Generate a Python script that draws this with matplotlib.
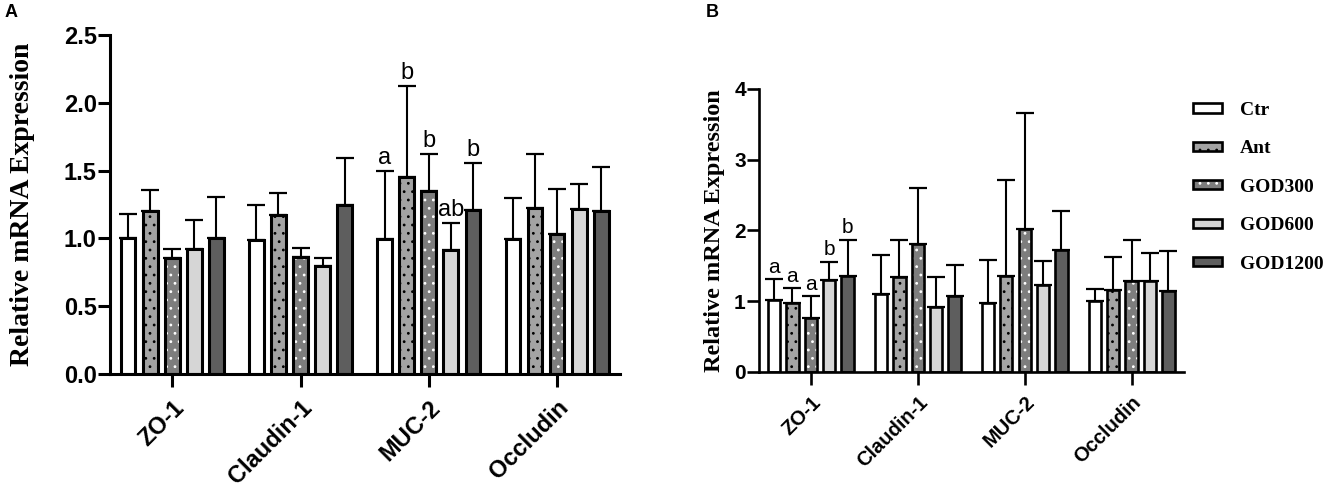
import numpy as np
import matplotlib
matplotlib.use('Agg')
import matplotlib.pyplot as plt
from matplotlib.patches import Patch

# genes on the x axis and treatment groups
genes = ['ZO-1', 'Claudin-1', 'MUC-2', 'Occludin']
groups = ['Ctr', 'Ant', 'GOD300', 'GOD600', 'GOD1200']

# panel A: means and SD (upper bar only) per group, one value per gene
a_ctr = [1.00, 0.99, 0.995, 0.995]
a_ant = [1.20, 1.17, 1.45, 1.225]
a_god300 = [0.855, 0.862, 1.35, 1.035]
a_god600 = [0.925, 0.793, 0.917, 1.215]
a_god1200 = [1.00, 1.245, 1.21, 1.205]

a_ctr_sd = [0.18, 0.26, 0.50, 0.305]
a_ant_sd = [0.16, 0.165, 0.675, 0.40]
a_god300_sd = [0.065, 0.065, 0.27, 0.33]
a_god600_sd = [0.21, 0.062, 0.195, 0.185]
a_god1200_sd = [0.305, 0.345, 0.345, 0.32]

# panel B
b_ctr = [1.022, 1.098, 0.971, 0.999]
b_ant = [0.971, 1.347, 1.357, 1.154]
b_god300 = [0.768, 1.809, 2.017, 1.29]
b_god600 = [1.296, 0.923, 1.225, 1.29]
b_god1200 = [1.352, 1.069, 1.729, 1.14]

b_ctr_sd = [0.29, 0.55, 0.605, 0.18]
b_ant_sd = [0.21, 0.52, 1.35, 0.475]
b_god300_sd = [0.305, 0.795, 1.65, 0.57]
b_god600_sd = [0.265, 0.425, 0.35, 0.385]
b_god1200_sd = [0.52, 0.45, 0.55, 0.565]

# significance letters: gene index -> letter per group
a_letters = {2: ['a', 'b', 'b', 'ab', 'b']}
b_letters = {0: ['a', 'a', 'a', 'b', 'b']}

# bar styles (fill colour, hatch, hatch colour)
fills = ['white', '#a3a3a3', '#7d7d7d', '#d6d6d6', '#5e5e5e']
hatches = [None, '..', '..', None, None]
dotcols = ['black', 'black', 'white', 'black', 'black']

sans = 'Liberation Sans'
serif = 'Liberation Serif'
plt.rcParams['hatch.linewidth'] = 0.8


def draw_panel(ax, means, sds, letters, ymax, yticks, ytl, lw, tick_fs, xtick_fs,
               ylab_fs, letter_fs, xpad):
    x = np.arange(len(genes))
    step = 0.172
    width = 0.115
    for j in range(len(groups)):
        pos = x + (j - 2) * step
        m = np.array(means[j])
        s = np.array(sds[j])
        # fill + dots
        ax.bar(pos, m, width, color=fills[j], hatch=hatches[j],
               edgecolor=dotcols[j], linewidth=0, zorder=2)
        # outline
        ax.bar(pos, m, width, fill=False, edgecolor='black', linewidth=lw, zorder=3)
        ax.errorbar(pos, m, yerr=[np.zeros_like(s), s], fmt='none', ecolor='black',
                    elinewidth=1.5, capsize=6.5, capthick=1.6, zorder=1)
    for gi, labs in letters.items():
        for j, lab in enumerate(labs):
            xp = gi + (j - 2) * step
            top = means[j][gi] + sds[j][gi]
            ax.annotate(lab, xy=(xp, top), xytext=(0, 1.5), textcoords='offset points',
                        ha='center', va='bottom', fontsize=letter_fs, family=sans)

    ax.set_xlim(-0.485, 3.49)
    ax.set_ylim(0, ymax)
    ax.set_yticks(yticks)
    ax.set_yticklabels(ytl, fontsize=tick_fs, fontweight='bold', family=sans)
    ax.set_xticks(x)
    ax.set_xticklabels(genes, rotation=45, ha='right', rotation_mode='anchor',
                       fontsize=xtick_fs, fontweight='bold', family=sans)
    for side in ['top', 'right']:
        ax.spines[side].set_visible(False)
    for side in ['left', 'bottom']:
        ax.spines[side].set_linewidth(lw)
    ax.tick_params(axis='y', length=8.5, width=lw, pad=1)
    ax.tick_params(axis='x', length=9, width=lw, pad=xpad)
    ax.set_ylabel('Relative mRNA Expression', fontsize=ylab_fs, fontweight='bold',
                  family=serif)


fig = plt.figure(figsize=(13.25, 4.94), dpi=100)
axA = fig.add_axes([0.0830, 0.2429, 0.3849, 0.6862])
axB = fig.add_axes([0.5728, 0.2470, 0.3208, 0.5729])

draw_panel(axA,
           [a_ctr, a_ant, a_god300, a_god600, a_god1200],
           [a_ctr_sd, a_ant_sd, a_god300_sd, a_god600_sd, a_god1200_sd],
           a_letters, 2.5, [0, 0.5, 1.0, 1.5, 2.0, 2.5],
           ['0.0', '0.5', '1.0', '1.5', '2.0', '2.5'],
           2.2, 17, 17, 20, 17, 7)
axA.yaxis.set_label_coords(-0.147, 0.5)

draw_panel(axB,
           [b_ctr, b_ant, b_god300, b_god600, b_god1200],
           [b_ctr_sd, b_ant_sd, b_god300_sd, b_god600_sd, b_god1200_sd],
           b_letters, 4, [0, 1, 2, 3, 4], ['0', '1', '2', '3', '4'],
           1.9, 15, 14.5, 17.5, 15, 6)
axB.yaxis.set_label_coords(-0.08, 0.5)

# legend
handles = []
for j in range(len(groups)):
    p1 = Patch(facecolor=fills[j], hatch=hatches[j], edgecolor=dotcols[j], linewidth=0)
    p2 = Patch(fill=False, edgecolor='black', linewidth=1.9)
    handles.append((p1, p2))
fig.legend(handles, groups, loc='upper left', bbox_to_anchor=(1193 / 1325, (494 - 102) / 494),
           frameon=False, borderpad=0, borderaxespad=0, handlelength=1.5,
           handleheight=0.35, handletextpad=0.9, labelspacing=1.1,
           prop={'family': serif, 'weight': 'bold', 'size': 14})

fig.text(5 / 1325, 1 - 4 / 494, 'A', fontsize=13, fontweight='bold', family=sans,
         ha='left', va='top')
fig.text(706 / 1325, 1 - 4 / 494, 'B', fontsize=13, fontweight='bold', family=sans,
         ha='left', va='top')

fig.savefig('out.png', dpi=100)
